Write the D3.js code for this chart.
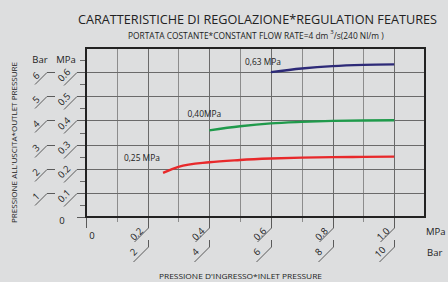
<!DOCTYPE html>
<html lang="en">
<head>
<meta charset="utf-8">
<title>Regulation features</title>
<script src="https://d3js.org/d3.v7.min.js"></script>
<style type="text/css">
  body { margin: 0; background: #dddedf; }
  text { font-family: "Open Sans", sans-serif; fill: #222; }
</style>
</head>
<body>
<div id="chart"></div>
<script type="text/javascript">

// outlet pressure (MPa) against inlet pressure (MPa), three set points
var inlet025 = [0.25, 0.3, 0.4, 0.5, 0.6, 0.7, 0.8, 0.9, 1.0];
var outlet025 = [0.183, 0.208, 0.227, 0.236, 0.242, 0.246, 0.248, 0.249, 0.25];
var inlet040 = [0.4, 0.5, 0.6, 0.7, 0.8, 0.9, 1.0];
var outlet040 = [0.359, 0.376, 0.388, 0.394, 0.398, 0.400, 0.401];
var inlet063 = [0.6, 0.7, 0.8, 0.9, 1.0];
var outlet063 = [0.600, 0.615, 0.625, 0.630, 0.632];

var seriesNames = ["0,25 MPa", "0,40MPa", "0,63 MPa"];
var seriesColors = ["#e8292b", "#1f9a4b", "#2d2a78"];

var yTickValues = [0.1, 0.2, 0.3, 0.4, 0.5, 0.6];
var yTickMPa = ["0.1", "0.2", "0.3", "0.4", "0.5", "0.6"];
var yTickBar = ["1", "2", "3", "4", "5", "6"];
var xTickValues = [0.2, 0.4, 0.6, 0.8, 1.0];
var xTickMPa = ["0.2", "0.4", "0.6", "0.8", "1.0"];
var xTickBar = ["2", "4", "6", "8", "10"];

var W = 448, H = 282;
var margin = {top: 48, right: 23, bottom: 65, left: 86};

var x = d3.scaleLinear().domain([0, 1.1]).range([margin.left, W - margin.right]);
var y = d3.scaleLinear().domain([0, 0.7]).range([H - margin.bottom, margin.top]);

var svg = d3.select("#chart").append("svg")
  .attr("width", W).attr("height", H);

svg.append("rect").attr("width", W).attr("height", H).attr("fill", "#dddedf");

var x0 = x(0), x1 = x(1.1), y0 = y(0), y1 = y(0.7);

// grid
var grid = svg.append("g").attr("stroke-width", 1).attr("shape-rendering", "crispEdges");
grid.selectAll(".vg").data(d3.range(1, 11)).enter().append("line")
  .attr("x1", function(d) { return Math.round(x(d / 10)) + 0.5; })
  .attr("x2", function(d) { return Math.round(x(d / 10)) + 0.5; })
  .attr("y1", y1).attr("y2", y0)
  .attr("stroke", function(d) { return d % 2 ? "#8c8c8c" : "#6a6a6a"; });
grid.selectAll(".hg").data(yTickValues).enter().append("line")
  .attr("x1", x0).attr("x2", x1)
  .attr("y1", function(d) { return Math.round(y(d)) + 0.5; })
  .attr("y2", function(d) { return Math.round(y(d)) + 0.5; })
  .attr("stroke", "#6a6a6a");

// minor ticks
grid.selectAll(".ym").data([0.05, 0.15, 0.25, 0.35, 0.45, 0.55, 0.65]).enter().append("line")
  .attr("x1", x0 - 6).attr("x2", x0)
  .attr("y1", function(d) { return Math.round(y(d)) + 0.5; })
  .attr("y2", function(d) { return Math.round(y(d)) + 0.5; })
  .attr("stroke", "#6a6a6a");
grid.selectAll(".xm").data([0.1, 0.3, 0.5, 0.7, 0.9]).enter().append("line")
  .attr("x1", function(d) { return Math.round(x(d)) + 0.5; })
  .attr("x2", function(d) { return Math.round(x(d)) + 0.5; })
  .attr("y1", y0).attr("y2", y0 + 5)
  .attr("stroke", "#8c8c8c");

// leaders for y labels
var lead = svg.append("g").attr("fill", "none").attr("stroke", "#5a5a5a").attr("stroke-width", 1);
lead.selectAll(".ly").data(yTickValues).enter().append("path")
  .attr("d", function(d) { var t = Math.round(y(d)) + 0.5; return "M" + x0 + "," + t + "H77L64," + (t + 13); });
lead.selectAll(".lyb").data(yTickValues).enter().append("path")
  .attr("d", function(d) { var t = Math.round(y(d)) + 0.5; return "M55," + t + "H47L35," + (t + 12); });
lead.append("path").attr("d", "M77," + (y0 + 0.5) + "H" + x0);
lead.append("path").attr("d", "M" + (x0 + 0.5) + "," + y0 + "V228");

// leaders for x labels
lead.selectAll(".lx").data(xTickValues).enter().append("path")
  .attr("d", function(d) { var t = Math.round(x(d)) + 0.5; return "M" + t + "," + y0 + "V228L" + (t - 14) + ",242"; });
lead.selectAll(".lxb").data(xTickValues).enter().append("path")
  .attr("d", function(d) { var t = Math.round(x(d)) + 0.5; return "M" + t + ",240V247L" + (t - 15) + ",262"; });

// frame
svg.append("rect")
  .attr("x", x0).attr("y", y1).attr("width", x1 - x0).attr("height", y0 - y1)
  .attr("fill", "none").attr("stroke", "#222").attr("stroke-width", 2);

// curves
var line = d3.line()
  .x(function(d) { return x(d[0]); })
  .y(function(d) { return y(d[1]); })
  .curve(d3.curveMonotoneX);

var series = [d3.zip(inlet025, outlet025), d3.zip(inlet040, outlet040), d3.zip(inlet063, outlet063)];
svg.selectAll(".curve").data(series).enter().append("path")
  .attr("d", line)
  .attr("fill", "none")
  .attr("stroke", function(d, i) { return seriesColors[i]; })
  .attr("stroke-width", 2.4);

var labelPos = [[0.123, 0.230], [0.329, 0.415], [0.516, 0.630]];
svg.selectAll(".slab").data(seriesNames).enter().append("text")
  .attr("x", function(d, i) { return x(labelPos[i][0]); })
  .attr("y", function(d, i) { return y(labelPos[i][1]); })
  .attr("font-size", 8.4)
  .text(function(d) { return d; });

// rotated tick labels
function rot(sel, cx, cy) {
  sel.attr("transform", function(d, i) { return "translate(" + cx(d, i) + "," + cy(d, i) + ") rotate(-45)"; })
    .attr("text-anchor", "middle").attr("dy", "0.35em").attr("font-size", 9.5);
}
svg.selectAll(".yl").data(yTickMPa).enter().append("text").text(function(d) { return d; })
  .call(rot, function() { return 64; }, function(d, i) { return y(yTickValues[i]) + 3; });
svg.selectAll(".ylb").data(yTickBar).enter().append("text").text(function(d) { return d; })
  .call(rot, function() { return 36; }, function(d, i) { return y(yTickValues[i]) + 3.5; });
svg.selectAll(".xl").data(xTickMPa).enter().append("text").text(function(d) { return d; })
  .call(rot, function(d, i) { return x(xTickValues[i]) - 11; }, function() { return 234; });
svg.selectAll(".xlb").data(xTickBar).enter().append("text").text(function(d) { return d; })
  .call(rot, function(d, i) { return x(xTickValues[i]) - 14; }, function() { return 252; });

// plain labels
function lab(t, px, py, size, anchor) {
  return svg.append("text").attr("x", px).attr("y", py).attr("font-size", size)
    .attr("text-anchor", anchor || "start").text(t);
}
lab("0", 92, 239, 9.5, "middle");
lab("0", 62, 224, 9.5, "middle");
lab("Bar", 40, 63, 9.5, "middle");
lab("MPa", 66, 63, 9.5, "middle");
lab("MPa", 426, 235, 9.5);
lab("Bar", 427, 256, 9.5);

lab("CARATTERISTICHE DI REGOLAZIONE*REGULATION FEATURES", 78, 23.5, 12.5)
  .attr("textLength", 359).attr("lengthAdjust", "spacingAndGlyphs");

var sub = svg.append("text").attr("x", 128).attr("y", 38.5).attr("font-size", 8.4);
sub.append("tspan").text("PORTATA COSTANTE*CONSTANT FLOW RATE=4 dm");
sub.append("tspan").attr("dx", 2).attr("dy", -5).attr("font-size", 6).text("3");
sub.append("tspan").attr("dy", 5).text("/s(240 Nl/m )");

lab("PRESSIONE D'INGRESSO*INLET PRESSURE", 159, 279, 8)
  .attr("textLength", 163).attr("lengthAdjust", "spacingAndGlyphs");

svg.append("text")
  .attr("transform", "translate(17,142.5) rotate(-90)")
  .attr("text-anchor", "middle").attr("font-size", 8)
  .attr("textLength", 161).attr("lengthAdjust", "spacingAndGlyphs")
  .text("PRESSIONE ALL'USCITA*OUTLET PRESSURE");

</script>
</body>
</html>
